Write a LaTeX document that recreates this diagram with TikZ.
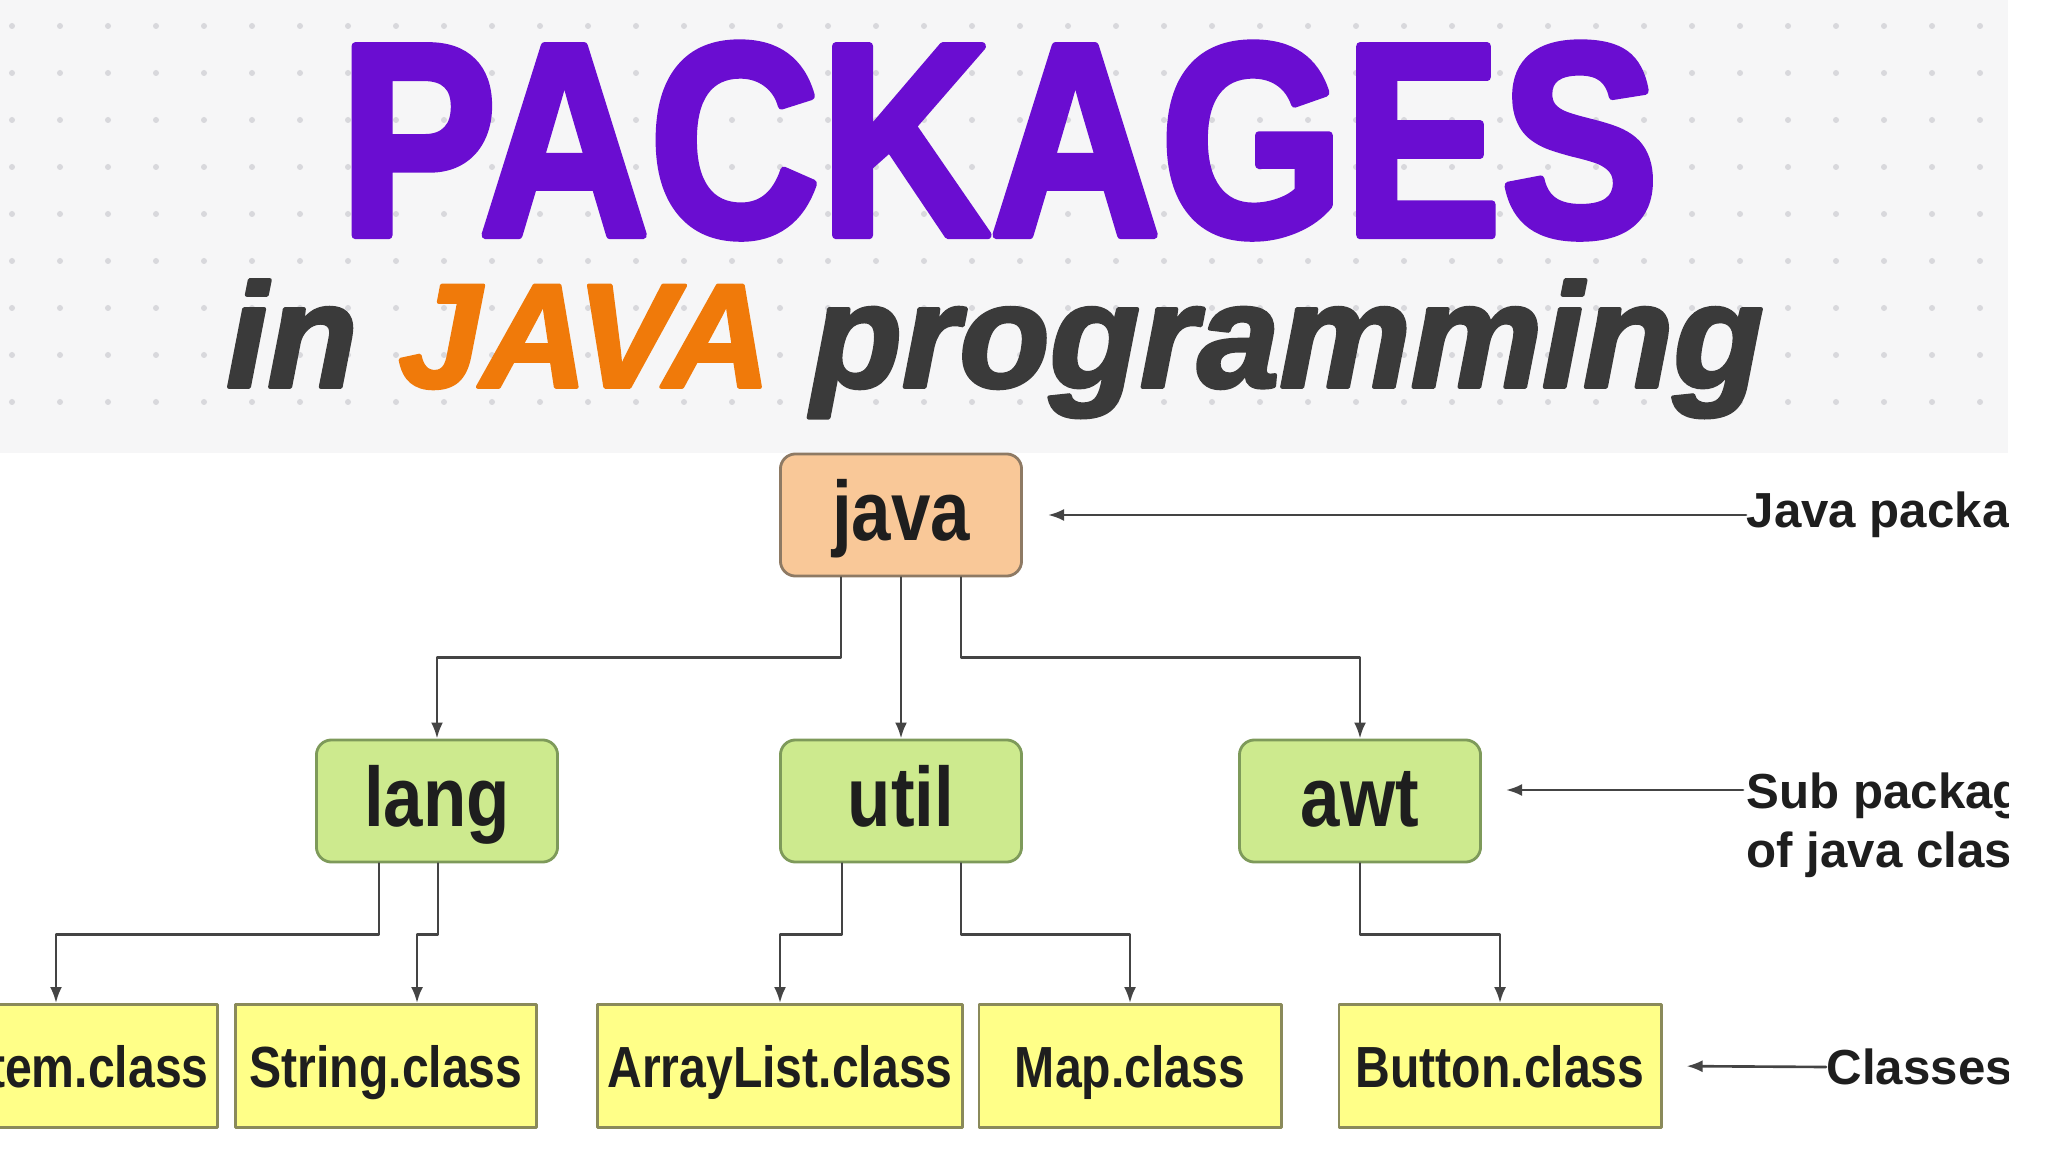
\documentclass[tikz,border=0pt]{standalone}
\usepackage{fontspec}
\setmainfont{Liberation Sans}
\newfontfamily\headfont[FakeBold=3]{Liberation Sans Bold}
\newfontfamily\headitfont[FakeBold=2.5]{Liberation Sans Bold Italic}
\usetikzlibrary{arrows.meta}
\definecolor{TitlePurple}{HTML}{6A0DD1}
\definecolor{JavaOrange}{HTML}{F07A0A}
\definecolor{TitleGray}{HTML}{3A3A3A}
\definecolor{HeadBand}{HTML}{F6F6F7}
\definecolor{DotGray}{HTML}{D8D8DC}
\definecolor{PkgPeach}{HTML}{F9C898}
\definecolor{PkgBorder}{HTML}{8E7A64}
\definecolor{SubGreen}{HTML}{CDEA8E}
\definecolor{SubBorder}{HTML}{7E9A5A}
\definecolor{ClsYellow}{HTML}{FFFF88}
\definecolor{ClsBorder}{HTML}{8A8A5A}
\definecolor{LinkGray}{HTML}{444444}
\definecolor{BoxText}{HTML}{1E1E1E}
\newcommand{\narrowtext}[1]{\scalebox{0.84}[1]{#1}}

\begin{document}
\begin{tikzpicture}[x=0.01cm,y=-0.01cm,line cap=round,line join=round,
  pkgbox/.style={draw=PkgBorder,fill=PkgPeach,rounded corners=0.15cm,line width=0.8pt,
    minimum width=2.41cm,minimum height=1.22cm,inner sep=0pt,
    text height=18pt,text depth=3.5pt,
    font=\bfseries\fontsize{24}{28}\selectfont,text=BoxText},
  subbox/.style={pkgbox,draw=SubBorder,fill=SubGreen},
  clsbox/.style={draw=ClsBorder,fill=ClsYellow,line width=0.8pt,minimum height=1.23cm,
    inner sep=0pt,text height=14.8pt,text depth=2.8pt,
    font=\bfseries\fontsize{16.5}{20}\selectfont,text=BoxText},
  link/.style={draw=LinkGray,line width=0.75pt,-{Latex[length=0.16cm,width=0.12cm]}},
  note/.style={anchor=west,inner sep=0pt,align=left,text=BoxText,
    font=\bfseries\fontsize{14}{16.8}\selectfont}]
  \useasboundingbox (0,0) rectangle (2048,1152);
  \begin{scope}
  \clip (0,0) rectangle (2008,1152);
  % header band
  \fill[HeadBand] (0,0) rectangle (2008,453);
  \foreach \col in {0,...,41}
    \foreach \row in {0,...,8}
      \fill[DotGray] (12+48*\col,402-47*\row) circle (0.03cm);
  \node[anchor=base,inner sep=0pt,text=TitlePurple,font=\headfont\fontsize{78}{80}\selectfont] (title) at (999,235) {\scalebox{0.86}[1]{PACKAGES}};
  \node[anchor=base,inner sep=0pt,text=TitleGray,font=\headitfont\fontsize{42}{44}\selectfont] (subtitle) at (995,387) {in \textcolor{JavaOrange}{JAVA} programming};

  % package tree
  \node[pkgbox] (java) at (901,515) {\narrowtext{java}};
  \node[subbox] (lang) at (437,801) {\narrowtext{lang}};
  \node[subbox] (util) at (901,801) {\narrowtext{util}};
  \node[subbox] (awt) at (1360,801) {\narrowtext{awt}};
  \node[clsbox,minimum width=3.22cm] (system) at (56,1066) {\scalebox{0.83}[1]{System.class}};
  \node[clsbox,minimum width=3.01cm] (string) at (386,1066) {\scalebox{0.83}[1]{String.class}};
  \node[clsbox,minimum width=3.64cm] (arraylist) at (780,1066) {\scalebox{0.83}[1]{ArrayList.class}};
  \node[clsbox,minimum width=3.02cm] (map) at (1130,1066) {\scalebox{0.83}[1]{Map.class}};
  \node[clsbox,minimum width=3.22cm] (button) at (1500,1066) {\scalebox{0.83}[1]{Button.class}};

  \draw[link] ([xshift=-0.6cm]java.south) -- ++(0,80) -| (lang.north);
  \draw[link] (java.south) -- (util.north);
  \draw[link] ([xshift=0.6cm]java.south) -- ++(0,80) -| (awt.north);
  \draw[link] ([xshift=-0.58cm]lang.south) -- ++(0,71) -| (system.north);
  \draw[link] ([xshift=0.01cm]lang.south) -- ++(0,71) -| ([xshift=0.31cm]string.north);
  \draw[link] ([xshift=-0.59cm]util.south) -- ++(0,71) -| (arraylist.north);
  \draw[link] ([xshift=0.6cm]util.south) -- ++(0,71) -| (map.north);
  \draw[link] (awt.south) -- ++(0,71) -| (button.north);

  % side notes
  \node[note] (noteJava) at (1746,515) {Java package};
  \node[note,anchor=north west] (noteSub) at (1746,772) {Sub package\\of java classes};
  \node[note] (noteCls) at (1826,1067) {Classes};
  \coordinate (subTail) at (1743,790);
  \draw[link,shorten >=0.25cm] (noteJava.west) -- (java.east);
  \draw[link,shorten >=0.24cm] (subTail) -- (subTail -| awt.east);
  \draw[link,shorten >=0.24cm] (noteCls.west) -- (button.east);
  \end{scope}
\end{tikzpicture}
\end{document}
